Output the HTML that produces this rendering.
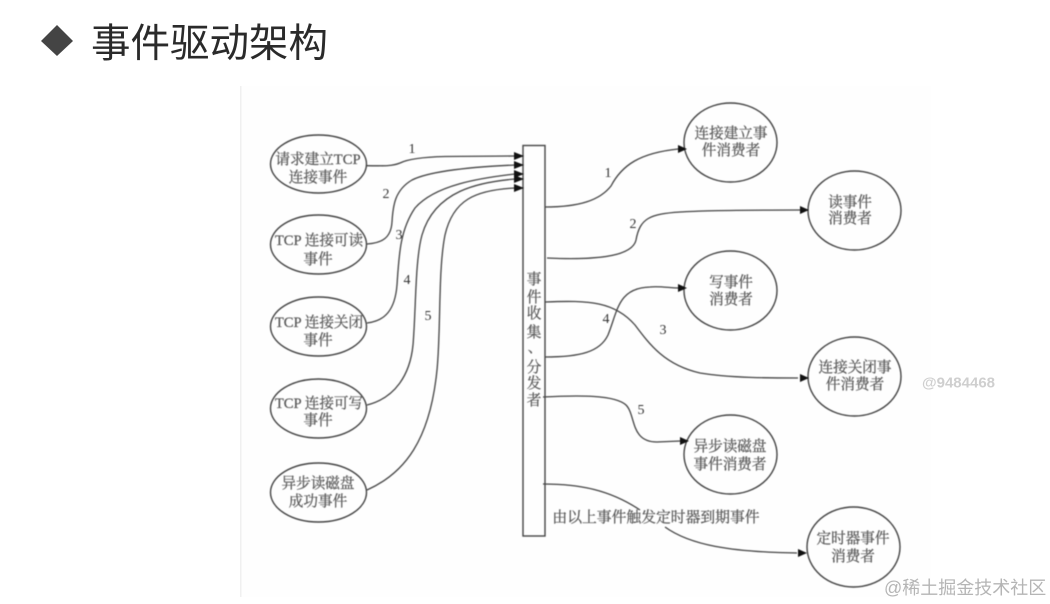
<!DOCTYPE html>
<html lang="zh"><head><meta charset="utf-8"><title>事件驱动架构</title>
<style>
html,body{margin:0;padding:0;background:#fff;width:1050px;height:604px;overflow:hidden}
svg{display:block}
.t{font-family:"Liberation Serif","Noto Serif CJK SC",serif;font-size:14.6px;fill:#555;stroke:#666;stroke-width:.3;text-anchor:middle}
.n{font-family:"Liberation Serif",serif;font-size:14px;fill:#333;text-anchor:middle}
.l{fill:none;stroke:#444;stroke-width:1.3}
.e{fill:none;stroke:#444;stroke-width:1.4}
.a{fill:#111}
</style></head><body>
<svg width="1050" height="604" viewBox="0 0 1050 604" xmlns="http://www.w3.org/2000/svg">
<rect x="241" y="86" width="690" height="511" fill="#fefefe"/>
<rect x="240" y="86" width="1.5" height="511" fill="#f0f0f0"/>
<polygon points="57,25 73,41 57,56 41,41" fill="#444"/>
<text x="91" y="57" font-family="'Noto Sans CJK SC',sans-serif" font-size="39.500" font-weight="400" fill="#2a2a2a" style="filter:blur(.3px)">事件驱动架构</text>
<g style="filter:blur(.5px)">
<rect class="e" x="523" y="145.500" width="22" height="390.500" fill="#fff"/>
<ellipse class="e" cx="318.500" cy="164" rx="48" ry="29"/>
<ellipse class="e" cx="318.500" cy="244.500" rx="48" ry="29.500"/>
<ellipse class="e" cx="318.500" cy="326.500" rx="48" ry="29.500"/>
<ellipse class="e" cx="318.500" cy="408.500" rx="48" ry="29.500"/>
<ellipse class="e" cx="318.500" cy="492.500" rx="48" ry="29.500"/>
<ellipse class="e" cx="730.500" cy="142.500" rx="46.500" ry="39.500"/>
<ellipse class="e" cx="854.500" cy="210.500" rx="46.500" ry="39.500"/>
<ellipse class="e" cx="730.500" cy="290.500" rx="46.500" ry="39.500"/>
<ellipse class="e" cx="854.500" cy="376.500" rx="46.500" ry="39.500"/>
<ellipse class="e" cx="730.500" cy="454.500" rx="46.500" ry="39.500"/>
<ellipse class="e" cx="853.500" cy="547" rx="46.500" ry="40"/>
<path class="l" d="M367 165.700C385 166 393 166 400 163C408 159 425 157 445 156.500L515 156"/>
<path class="l" d="M367 244C382 243 391 238 392 222C393 205 395 190 412 180C430 171 470 167 515 165"/>
<path class="l" d="M367 323C385 321 395 310 397 285C399 255 400 230 415 208C435 185 480 178 515 174"/>
<path class="l" d="M367 405C395 398 410 375 413 345C416 310 415 260 422 235C435 190 480 182 515 179"/>
<path class="l" d="M367 490C405 473 430 440 437 370C441 330 438 270 445 235C453 200 475 190 515 188"/>
<path class="l" d="M545 207C580 207 600 200 611 186C622 165 640 153 678 149"/>
<path class="l" d="M547 258C590 260 632 258 636 240C640 218 650 214 680 212C710 210 760 210 800 210"/>
<path class="l" d="M545 302C590 300 615 302 635 325C650 345 665 365 700 373C730 378 770 378 798 378"/>
<path class="l" d="M545 357C580 357 600 352 608 335C618 310 618 288 650 287C660 286 670 288 678 288"/>
<path class="l" d="M543 397C580 395 615 395 626 405C636 415 630 442 657 442L680 441"/>
<path class="l" d="M543 484C580 484 610 490 640 510"/>
<path class="l" d="M665 527C690 545 730 552 797 553"/>
<polygon class="a" points="524,156 514,152 514,160"/>
<polygon class="a" points="524,165 514,161 514,169"/>
<polygon class="a" points="524,174 514,170 514,178"/>
<polygon class="a" points="524,179 514,175 514,183"/>
<polygon class="a" points="524,188 514,184 514,192"/>
<polygon class="a" points="687,149 678,145 678,153"/>
<polygon class="a" points="809,210 800,206 800,214"/>
<polygon class="a" points="687,288 678,284 678,292"/>
<polygon class="a" points="809,378 800,374 800,382"/>
<polygon class="a" points="689,441 680,437 680,445"/>
<polygon class="a" points="807,553 798,549 798,557"/>
<text class="t" x="318" y="164">请求建立TCP</text><text class="t" x="318" y="182">连接事件</text>
<text class="t" x="319" y="245">TCP 连接可读</text><text class="t" x="318" y="264">事件</text>
<text class="t" x="319" y="327">TCP 连接关闭</text><text class="t" x="318" y="345">事件</text>
<text class="t" x="319" y="408">TCP 连接可写</text><text class="t" x="318" y="425">事件</text>
<text class="t" x="318" y="488">异步读磁盘</text><text class="t" x="318" y="506">成功事件</text>
<text class="t" x="731" y="138">连接建立事</text><text class="t" x="731" y="155">件消费者</text>
<text class="t" x="850" y="207">读事件</text><text class="t" x="850" y="223">消费者</text>
<text class="t" x="731" y="287">写事件</text><text class="t" x="731" y="304">消费者</text>
<text class="t" x="855" y="372">连接关闭事</text><text class="t" x="855" y="389">件消费者</text>
<text class="t" x="730" y="451">异步读磁盘</text><text class="t" x="730" y="469">事件消费者</text>
<text class="t" x="853" y="543">定时器事件</text><text class="t" x="853" y="561">消费者</text>
<text class="t" x="534" y="284">事</text><text class="t" x="534" y="302">件</text>
<text class="t" x="534" y="318">收</text><text class="t" x="534" y="337">集</text>
<text class="t" x="535" y="352">、</text><text class="t" x="534" y="372">分</text>
<text class="t" x="534" y="388">发</text><text class="t" x="534" y="405">者</text>
<text class="t" x="656" y="522" style="font-size:14.800px">由以上事件触发定时器到期事件</text>
<text class="n" x="412" y="153">1</text><text class="n" x="386" y="198">2</text>
<text class="n" x="399" y="239">3</text><text class="n" x="407" y="284">4</text>
<text class="n" x="428" y="320">5</text>
<text class="n" x="608" y="177">1</text><text class="n" x="633" y="228">2</text>
<text class="n" x="663" y="334">3</text><text class="n" x="606" y="323">4</text>
<text class="n" x="641" y="414">5</text>
</g>
<text x="922" y="387.500" font-family="'Liberation Sans',sans-serif" font-size="15" font-weight="bold" fill="#cfcfcf">@9484468</text>
<text x="884" y="594" font-family="'Liberation Sans','Noto Sans CJK SC',sans-serif" font-size="18" fill="#b5b5b5">@稀土掘金技术社区</text>
</svg>
</body></html>
